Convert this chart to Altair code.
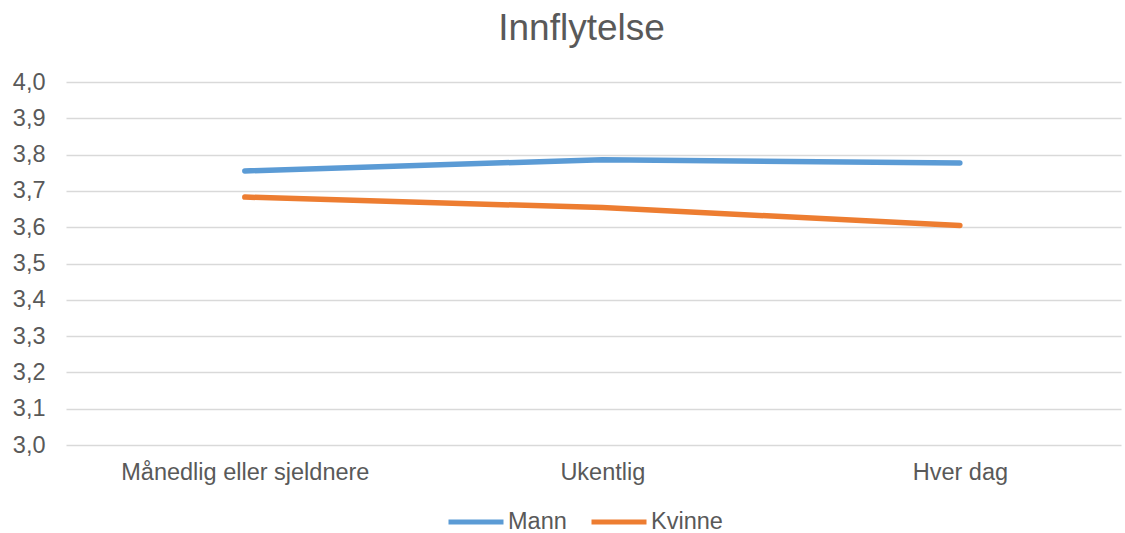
import altair as alt
import pandas as pd

# Categories and mean scores per group
categories = ["Månedlig eller sjeldnere", "Ukentlig", "Hver dag"]
series = ["Mann", "Kvinne"]
mann = [3.755, 3.786, 3.777]
kvinne = [3.683, 3.654, 3.605]
y_ticks = [3.0, 3.1, 3.2, 3.3, 3.4, 3.5, 3.6, 3.7, 3.8, 3.9, 4.0]
colors = ["#5B9BD5", "#ED7D31"]

rows = []
for name, vals in zip(series, [mann, kvinne]):
    for cat, val in zip(categories, vals):
        rows.append({"kategori": cat, "serie": name, "verdi": val})
df = pd.DataFrame(rows)

FONT = "Liberation Sans"
TEXT = "#595959"

chart = (
    alt.Chart(df)
    .mark_line(strokeWidth=5.5, strokeCap="round", strokeJoin="round")
    .encode(
        x=alt.X(
            "kategori:N",
            sort=categories,
            scale=alt.Scale(type="point", padding=0.4755, align=0.526),
            axis=alt.Axis(
                title=None,
                labelAngle=0,
                domain=False,
                ticks=False,
                grid=False,
                labelFont=FONT,
                labelFontSize=23.5,
                labelColor=TEXT,
                labelPadding=15,
                labelLimit=500,
            ),
        ),
        y=alt.Y(
            "verdi:Q",
            scale=alt.Scale(domain=[3.0, 4.0], nice=False, zero=False),
            axis=alt.Axis(
                title=None,
                values=y_ticks,
                labelExpr="replace(format(datum.value, '.1f'), '.', ',')",
                domain=False,
                ticks=False,
                grid=True,
                gridColor="#D9D9D9",
                gridWidth=1.5,
                labelFont=FONT,
                labelFontSize=23.5,
                labelColor=TEXT,
                labelPadding=21,
            ),
        ),
        color=alt.Color(
            "serie:N",
            sort=series,
            scale=alt.Scale(domain=series, range=colors),
            legend=alt.Legend(
                title=None,
                orient="none",
                direction="horizontal",
                legendX=380,
                legendY=428,
                clipHeight=24,
                symbolType="stroke",
                symbolSize=3025,
                symbolStrokeWidth=5,
                labelFont=FONT,
                labelFontSize=23.5,
                labelColor=TEXT,
                labelOffset=2,
                columnPadding=22,
            ),
        ),
    )
    .properties(
        width=1055,
        height=363,
        background="white",
        title=alt.TitleParams(
            "Innflytelse",
            font=FONT,
            fontSize=37,
            fontWeight="normal",
            color=TEXT,
            anchor="middle",
            frame="group",
            dx=-12,
            offset=22,
        ),
        autosize=alt.AutoSizeParams(type="none"),
        padding={"left": 66, "top": 82, "right": 4, "bottom": 88},
    )
    .configure_view(strokeWidth=0, stroke="transparent")
)

chart.save("out.html", embed_options={"renderer": "svg", "actions": False})
